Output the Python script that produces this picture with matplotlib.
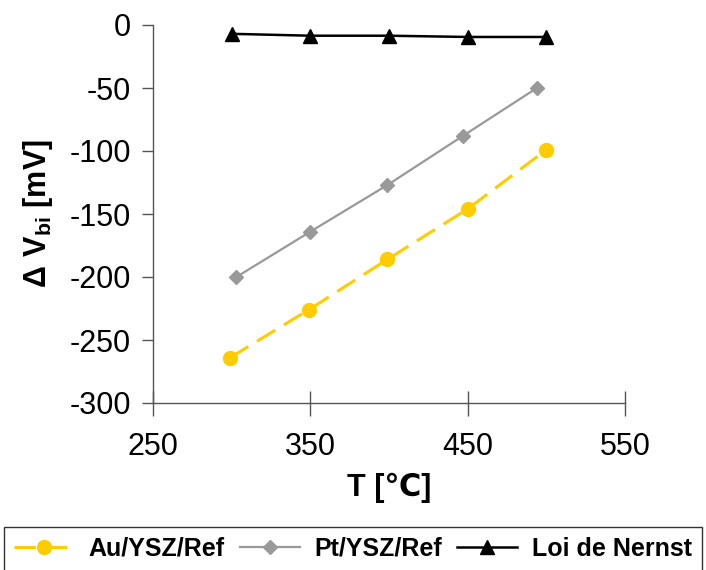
import numpy as np
import matplotlib.pyplot as plt

plt.rcParams['font.family'] = ['Liberation Sans', 'DejaVu Sans']
plt.rcParams['mathtext.fontset'] = 'custom'
plt.rcParams['mathtext.rm'] = 'Liberation Sans'
plt.rcParams['mathtext.bf'] = 'Liberation Sans:bold'
plt.rcParams['axes.unicode_minus'] = False

# Data
t_au = [299, 349, 399, 450, 500]
v_au = [-264, -226, -186, -146, -99]

t_pt = [303, 350, 399, 447, 494]
v_pt = [-200, -164, -127, -88, -50]

t_nernst = [300, 350, 400, 450, 500]
v_nernst = [-7, -8.5, -8.5, -9.5, -9.5]

x_ticks = [250, 350, 450, 550]
y_ticks = [0, -50, -100, -150, -200, -250, -300]

fig = plt.figure(figsize=(7.06, 5.70), dpi=100)
ax = fig.add_axes([153 / 706, 1 - 403 / 570, (625 - 153) / 706, (403 - 25) / 570])

ax.plot(t_au, v_au, color='#FFCC00', linewidth=2.2, linestyle=(0, (7, 3.3)),
        marker='o', markersize=10, label='Au/YSZ/Ref')
ax.plot(t_pt, v_pt, color='#999999', linewidth=1.6,
        marker='D', markersize=7, label='Pt/YSZ/Ref')
ax.plot(t_nernst, v_nernst, color='black', linewidth=1.8,
        marker='^', markersize=10, label='Loi de Nernst')

ax.set_xlim(250, 550)
ax.set_ylim(-300, 0)
ax.set_xticks(x_ticks)
ax.set_yticks(y_ticks)

for s in ['top', 'right']:
    ax.spines[s].set_visible(False)
for s in ['left', 'bottom']:
    ax.spines[s].set_color('#555555')
    ax.spines[s].set_linewidth(1.0)

ax.tick_params(axis='y', direction='out', length=8, width=1, color='#555555',
               labelsize=22, pad=8)
ax.tick_params(axis='x', direction='inout', length=18, width=1, color='#555555',
               labelsize=22, pad=12)

ax.set_xlabel('T [℃]', fontsize=22, fontweight='bold', labelpad=8)
ax.set_ylabel(r'$\mathbf{\Delta\ V_{bi}}$ [mV]', fontsize=22, fontweight='bold', labelpad=10)

leg = fig.legend(loc='upper center', bbox_to_anchor=(0.5, 1 - 527 / 570), ncol=3,
                 prop={'weight': 'bold', 'size': 18},
                 frameon=True, fancybox=False, edgecolor='black',
                 handlelength=2.4, columnspacing=0.6, handletextpad=0.6,
                 borderpad=0.4, borderaxespad=0)
leg.get_frame().set_linewidth(1.0)

fig.savefig('out.png', dpi=100)
